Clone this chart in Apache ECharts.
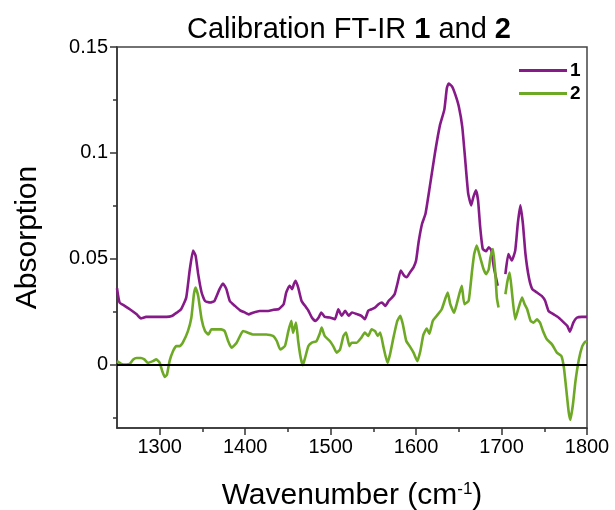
<!DOCTYPE html>
<html>
<head>
<meta charset="utf-8">
<script src="https://cdn.jsdelivr.net/npm/echarts@6/dist/echarts.min.js"></script>
<style>html,body{margin:0;padding:0;background:#fff;}#c{width:615px;height:510px;}</style>
</head>
<body>
<div id="c"></div>
<script>
// Tick values
const xMajorTicks = [1300, 1400, 1500, 1600, 1700, 1800];
const xMinorTicks = [1350, 1450, 1550, 1650, 1750];
const yMajorTicks = [0, 0.05, 0.1, 0.15];
const yMinorTicks = [-0.025, 0.025, 0.075, 0.125];
const seriesNames = ['1', '2'];

// Series 1 (purple): wavenumber and absorption
const wn1 = [1250,1253,1259,1265,1273,1278,1284,1292,1300,1308,1314,1320,1325,1331,1335,1339,1342,1345,1349,1353,1359,1364,1370,1374,1378,1382,1388,1394,1400,1404,1409,1417,1427,1433,1439,1445,1448,1452,1455,1457,1459,1462,1466,1470,1474,1478,1482,1486,1489,1493,1499,1505,1509,1513,1517,1521,1525,1531,1536,1540,1544,1548,1552,1556,1560,1564,1568,1572,1575,1579,1582,1586,1589,1593,1597,1600,1603,1607,1611,1616,1622,1628,1633,1636,1638,1642,1646,1650,1654,1657.5,1661,1664.5,1667,1670,1672.5,1675,1678,1682,1685,1688,1691,1695.5,1700,1704.5,1708,1712,1716,1719,1722,1725,1728,1732,1736,1741.5,1747,1751,1755,1761,1767,1773,1777,1780,1784,1788,1794,1800];
const abs1 = [0.036,0.0293,0.0277,0.0261,0.0237,0.0218,0.0225,0.0225,0.0225,0.0225,0.0229,0.0245,0.0261,0.0316,0.0443,0.0538,0.0514,0.0427,0.034,0.030,0.0293,0.030,0.0356,0.0383,0.0356,0.030,0.0277,0.0256,0.0245,0.0237,0.0245,0.0253,0.0253,0.0259,0.0261,0.0285,0.034,0.0372,0.0356,0.038,0.0396,0.0364,0.030,0.0277,0.0254,0.0222,0.0206,0.0222,0.0246,0.0225,0.0222,0.0214,0.0261,0.023,0.0254,0.023,0.0246,0.0238,0.023,0.0214,0.0254,0.0261,0.0269,0.0285,0.0293,0.0277,0.0301,0.0317,0.0333,0.0396,0.0444,0.042,0.0412,0.0436,0.0459,0.0491,0.058,0.0665,0.0712,0.0839,0.0997,0.1132,0.1203,0.1306,0.1327,0.1314,0.1274,0.1219,0.1124,0.0966,0.0807,0.0752,0.0791,0.0823,0.0776,0.0649,0.0546,0.0535,0.0554,0.054,0.0459,0.0372,null,0.0427,0.0522,0.0491,0.0538,0.0665,0.0752,0.0665,0.0522,0.0411,0.0356,0.034,0.0324,0.0301,0.0253,0.0237,0.0221,0.0198,0.0182,0.0155,0.0198,0.0221,0.0225,0.0225];

// Series 2 (green): wavenumber and absorption
const wn2 = [1250,1255,1261,1265,1269,1273,1278,1282,1286,1292,1296,1300,1303,1306,1308.5,1311.5,1315.5,1319.5,1323.5,1327,1333,1337,1340,1342,1345,1349,1353,1357,1360.5,1366,1372,1376,1380,1384,1390,1397.5,1403.5,1409,1417,1425,1433,1437,1441,1446.5,1450.5,1454,1456,1459.5,1462,1465,1467.5,1470,1474,1478,1483.5,1487,1489.5,1493,1499,1503,1507,1511,1515,1518,1522,1524.5,1530.5,1536,1540,1544,1548,1552,1555,1558,1562,1566.5,1569.5,1573.5,1578,1581.5,1584.5,1588.5,1592.5,1597,1601.5,1605,1608.5,1612.5,1615.5,1619.5,1624,1630,1634,1637,1640,1644.5,1647.5,1651,1653.5,1656.5,1661.5,1665.5,1668,1671,1675,1679,1682,1685,1687,1690,1692.5,1694.5,1696.5,1700,1704.5,1707,1709.5,1712,1716,1720,1724,1727,1730,1734,1737.5,1741.5,1745,1748.5,1753,1759,1765,1770,1773,1776,1778.5,1780.5,1783.5,1786.5,1790.5,1794.5,1798,1800];
const abs2 = [0.0016,0.0003,0.0,0.0003,0.0024,0.0031,0.0031,0.0024,0.0008,0.0016,0.0024,0.0008,-0.0032,-0.0059,-0.0048,0.0016,0.0063,0.0087,0.0087,0.0103,0.0158,0.0221,0.0332,0.0364,0.0324,0.0214,0.0158,0.0142,0.0166,0.0166,0.0166,0.0158,0.0111,0.0079,0.0103,0.0158,0.015,0.0142,0.0142,0.0142,0.0134,0.0111,0.0071,0.0087,0.0158,0.0206,0.015,0.0198,0.0111,0.0031,-0.0003,0.003,0.0087,0.0103,0.0111,0.0143,0.0174,0.0135,0.0111,0.0087,0.0056,0.0071,0.0135,0.0151,0.0087,0.0103,0.0103,0.0127,0.0151,0.0135,0.0166,0.0158,0.0135,0.0151,0.0079,0.0008,0.0048,0.0127,0.0206,0.023,0.019,0.0111,0.0087,0.0056,0.0016,0.0064,0.014,0.017,0.0145,0.0206,0.0229,0.0261,0.0309,0.034,0.0285,0.0245,0.0285,0.034,0.0372,0.0285,0.0301,0.0443,0.0522,0.0562,0.0506,0.045,0.0427,0.045,0.0506,0.0546,0.0443,0.0316,0.0269,null,0.0332,0.0396,0.0435,0.0348,0.0213,0.0269,0.0316,0.0285,0.0261,0.0206,0.0198,0.0213,0.0198,0.0158,0.0119,0.0095,0.0055,0.004,-0.0016,-0.0127,-0.0222,-0.0261,-0.019,-0.0079,0.0024,0.0087,0.0108,0.0103];

const FONT = 'Liberation Sans, Arial, sans-serif';
const AXIS_COLOR = '#333';
const pairs = (xs, ys) => xs.map((x, i) => [x, ys[i] === null ? '-' : ys[i]]);

const chart = echarts.init(document.getElementById('c'), null, {renderer: 'canvas'});
chart.setOption({
  animation: false,
  backgroundColor: '#fff',
  title: {
    text: '{n|Calibration FT-IR }{b|1}{n| and }{b|2}',
    left: 182,
    top: 10,
    textStyle: {
      fontWeight: 'normal',
      rich: {
        n: {fontSize: 29, fontFamily: FONT, color: '#000', fontWeight: 'normal'},
        b: {fontSize: 29, fontFamily: FONT, color: '#000', fontWeight: 'bold'}
      }
    }
  },
  legend: {
    data: seriesNames,
    orient: 'vertical',
    left: 514,
    top: 56,
    icon: 'rect',
    itemWidth: 48,
    itemHeight: 3,
    itemGap: 4,
    textStyle: {fontSize: 19, fontWeight: 'bold', color: '#000', fontFamily: FONT, padding: [0, 0, 0, -2]}
  },
  grid: {
    left: 117, right: 28, top: 47, bottom: 82,
    containLabel: false, outerBoundsMode: 'none',
    show: true, borderColor: '#444', borderWidth: 1.5, backgroundColor: 'transparent'
  },
  xAxis: [{
    type: 'value', min: 1250, max: 1800,
    name: '{a|Wavenumber (cm}{s|-1}{a|)}',
    nameLocation: 'middle', nameGap: 53,
    nameTextStyle: {
      rich: {
        a: {fontSize: 30, fontFamily: FONT, color: '#000', verticalAlign: 'bottom'},
        s: {fontSize: 17, fontFamily: FONT, color: '#000', verticalAlign: 'top'}
      }
    },
    axisLine: {show: true, onZero: false, lineStyle: {color: AXIS_COLOR, width: 1.5}},
    axisTick: {show: true, customValues: xMajorTicks, length: 7, lineStyle: {color: AXIS_COLOR, width: 1.5}},
    axisLabel: {customValues: xMajorTicks, fontSize: 20, fontFamily: FONT, color: '#000', margin: 9,
      formatter: v => String(v)},
    splitLine: {show: false}
  }, {
    type: 'value', min: 1250, max: 1800, position: 'bottom',
    axisLine: {show: false, onZero: false},
    axisTick: {show: true, customValues: xMinorTicks, length: 4, lineStyle: {color: AXIS_COLOR, width: 1.5}},
    axisLabel: {show: false},
    splitLine: {show: false}
  }],
  yAxis: [{
    type: 'value', min: -0.03, max: 0.15,
    name: 'Absorption', nameLocation: 'middle', nameGap: 74,
    nameTextStyle: {fontSize: 30, fontFamily: FONT, color: '#000'},
    axisLine: {show: true, onZero: false, lineStyle: {color: AXIS_COLOR, width: 1.5}},
    axisTick: {show: true, customValues: yMajorTicks, length: 7, lineStyle: {color: AXIS_COLOR, width: 1.5}},
    axisLabel: {customValues: yMajorTicks, fontSize: 20, fontFamily: FONT, color: '#000', margin: 9,
      formatter: v => String(+(+v).toFixed(3))},
    splitLine: {show: false}
  }, {
    type: 'value', min: -0.03, max: 0.15, position: 'left',
    axisLine: {show: false, onZero: false},
    axisTick: {show: true, customValues: yMinorTicks, length: 4, lineStyle: {color: AXIS_COLOR, width: 1.5}},
    axisLabel: {show: false},
    splitLine: {show: false}
  }],
  series: [{
    name: seriesNames[0], type: 'line', data: pairs(wn1, abs1),
    showSymbol: false, symbol: 'none', smooth: 0.15, connectNulls: false,
    lineStyle: {color: '#861a88', width: 2.6}, itemStyle: {color: '#861a88'},
    z: 3,
    markLine: {
      silent: true, symbol: ['none', 'none'], label: {show: false},
      lineStyle: {color: '#000', width: 1.8, type: 'solid'},
      data: [{yAxis: 0}]
    }
  }, {
    name: seriesNames[1], type: 'line', data: pairs(wn2, abs2),
    showSymbol: false, symbol: 'none', smooth: 0.15, connectNulls: false,
    lineStyle: {color: '#6ea926', width: 2.6}, itemStyle: {color: '#6ea926'},
    z: 4
  }]
});
</script>
</body>
</html>
